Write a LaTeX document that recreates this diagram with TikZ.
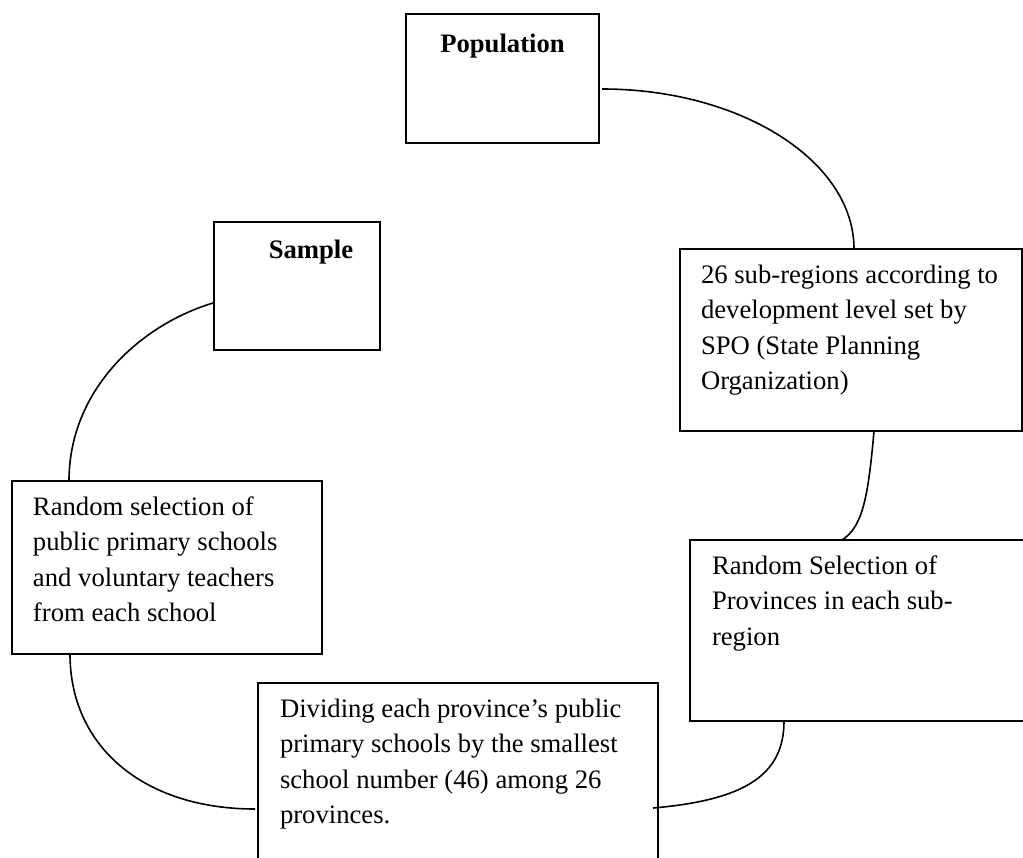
\documentclass[tikz,border=0pt]{standalone}
\usepackage{fontspec}
\setmainfont{Liberation Serif}
\usetikzlibrary{calc}

% one drawing unit = one screen pixel
\newlength\pxlen
\setlength\pxlen{0.75pt}

\tikzset{
  stagebox/.style={draw, line width=1.5pt, inner sep=0pt, outer sep=0pt, anchor=north west},
  link/.style={line width=1.2pt},
}

% box body: width, height, left margin, text (top aligned, ragged right)
\newcommand\stagetext[4]{%
  \parbox[t][#2\pxlen][t]{#1\pxlen}{\fontsize{20pt}{26.6pt}\selectfont
    \raggedright\leftskip=#3\pxlen\rule{0pt}{34.5\pxlen}#4}}

% box title: width, height, left offset, baseline depth, text (bold, centred)
\newcommand\stagetitle[5]{%
  \parbox[t][#2\pxlen][t]{#1\pxlen}{\fontsize{20pt}{26.6pt}\selectfont\bfseries
    \leftskip=#3\pxlen plus 1fil\rightskip=0pt plus 1fil\parfillskip=0pt
    \rule{0pt}{#4\pxlen}#5}}

\begin{document}
\begin{tikzpicture}[x=0.75pt,y=-0.75pt]
\useasboundingbox (0,0) rectangle (1023,857);
\clip (0,0) rectangle (1023,857);

% stages
\node[stagebox] (pop) at (406,14) {\stagetitle{193}{129}{0}{38}{Population}};
\node[stagebox] (sample) at (214,222) {\stagetitle{166}{128}{28}{36}{Sample}};
\node[stagebox] (spo) at (680,249) {\stagetext{342}{182}{21}{26 sub-regions according to\\development level set by\\SPO (State Planning\\Organization)}};
\node[stagebox] (prov) at (690,540) {\stagetext{360}{181}{22}{Random Selection of\\Provinces in each sub-\\region}};
\node[stagebox] (divide) at (258,683) {\stagetext{400}{220}{22}{Dividing each province’s public\\primary schools by the smallest\\school number (46) among 26\\provinces.}};
\node[stagebox] (select) at (12,481) {\stagetext{310}{173}{21}{Random selection of\\public primary schools\\and voluntary teachers\\from each school}};

% attachment points on the box edges
\coordinate (popR)    at ($(pop.east)+(3,10.5)$);
\coordinate (spoT)    at ($(spo.north west)+(174,0)$);
\coordinate (spoB)    at ($(spo.south west)+(194,0)$);
\coordinate (provT)   at ($(prov.north west)+(152,0)$);
\coordinate (provB)   at ($(prov.south west)+(94,0)$);
\coordinate (divideR) at ($(divide.north east)+(-5,125)$);
\coordinate (divideL) at ($(divide.north west)+(-3,126)$);
\coordinate (selectB) at ($(select.south west)+(58,0)$);
\coordinate (selectT) at ($(select.north west)+(57,0)$);
\coordinate (sampleL) at ($(sample.north west)+(-1,81)$);

% curved links between the stages
\draw[link] (popR) .. controls +(139,0) and +(0,-88) .. (spoT);
\draw[link] (spoB) .. controls +(-6,69) and +(20,-13) .. (provT);
\draw[link] (provB) .. controls +(0,54) and +(92,-8) .. (divideR);
\draw[link] (selectB) .. controls +(0,93) and +(-111,0) .. (divideL);
\draw[link] (sampleL) .. controls +(-73,22) and +(0,-91) .. (selectT);
\end{tikzpicture}
\end{document}
